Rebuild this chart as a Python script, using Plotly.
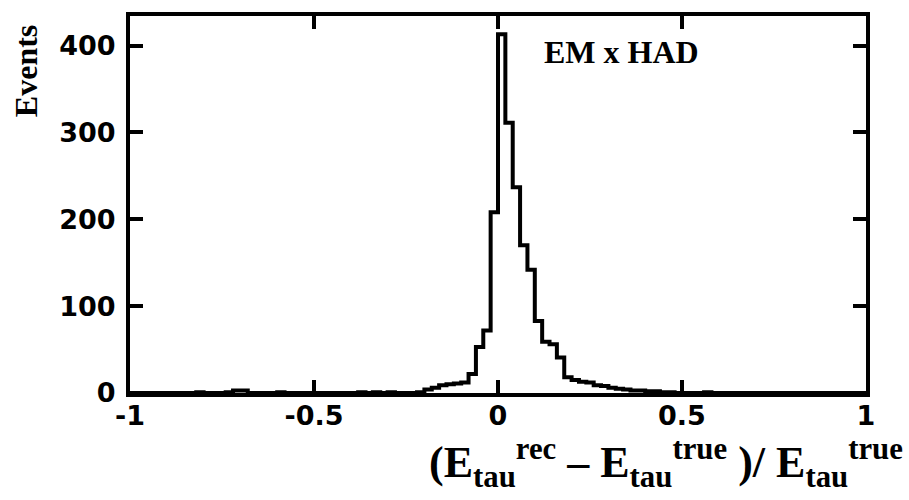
import plotly.graph_objects as go

# Histogram of the relative tau energy resolution, 100 bins of width 0.02 on [-1, 1]
bin_start = -1.0
bin_width = 0.02
counts = [
    0, 0, 0, 0, 0, 0, 0, 0, 0, 1,        # -1.00 .. -0.82
    0, 0, 0, 1, 3, 3, 0, 0, 0, 0,        # -0.80 .. -0.62
    1, 0, 0, 0, 0, 0, 0, 0, 0, 0,        # -0.60 .. -0.42
    0, 1, 0, 1, 0, 1, 0, 0, 0, 1,        # -0.40 .. -0.22
    4, 6, 9, 10, 11, 12, 22, 53, 72, 208,  # -0.20 .. -0.02
    413, 311, 237, 170, 142, 83, 59, 56, 41, 18,  # 0.00 .. 0.18
    15, 13, 12, 9, 8, 6, 5, 4, 3, 3,     # 0.20 .. 0.38
    2, 2, 1, 1, 0, 0, 0, 0, 1, 0,        # 0.40 .. 0.58
    0, 0, 0, 0, 0, 0, 0, 0, 0, 0,        # 0.60 .. 0.78
    0, 0, 0, 0, 0, 0, 0, 0, 0, 0,        # 0.80 .. 0.98
]
x_ticks = [-1, -0.5, 0, 0.5, 1]
x_ticktext = ["-1", "-0.5", "0", "0.5", "1"]
y_ticks = [0, 100, 200, 300, 400]
y_ticktext = ["0", "100", "200", "300", "400"]

edges = [round(bin_start + bin_width * i, 4) for i in range(len(counts) + 1)]
step_y = counts + [counts[-1]]

fig = go.Figure()
fig.add_trace(go.Scatter(
    x=edges, y=step_y, mode="lines",
    line=dict(shape="hv", color="black", width=4),
    showlegend=False, hoverinfo="skip",
))

tick_font = dict(family="DejaVu Sans", size=27, color="black", weight="bold")
serif = "Liberation Serif"

axis_common = dict(
    showline=True, linewidth=4, linecolor="black", mirror="allticks",
    ticks="inside", ticklen=13, tickwidth=4, tickcolor="black",
    showgrid=False, zeroline=False, tickfont=tick_font,
)

fig.update_layout(
    width=909, height=500,
    margin=dict(l=130, r=43, t=12, b=107),
    paper_bgcolor="white", plot_bgcolor="white",
    xaxis=dict(range=[-1, 1], tickvals=x_ticks, ticktext=x_ticktext,
               ticklabelstandoff=-4, **axis_common),
    yaxis=dict(range=[0, 434], tickvals=y_ticks, ticktext=y_ticktext,
               ticklabelstandoff=5, **axis_common),
    annotations=[
        dict(text="<b>EM x HAD</b>", xref="paper", yref="paper",
             x=0.668, y=0.905, xanchor="center", yanchor="middle",
             showarrow=False, font=dict(family=serif, size=32, color="black")),
        dict(text="<b>Events</b>", xref="paper", yref="paper",
             x=-0.142, y=0.855, xanchor="center", yanchor="middle", textangle=-90,
             showarrow=False, font=dict(family=serif, size=32, color="black")),
        dict(text="<b>(E<sub>tau</sub><sup>rec</sup> – E<sub>tau</sub><sup>true</sup> )/ "
                  "E<sub>tau</sub><sup>true</sup></b>",
             xref="paper", yref="paper", x=1.053, y=-0.185,
             xanchor="right", yanchor="middle",
             showarrow=False, font=dict(family=serif, size=44, color="black")),
    ],
)

fig.write_html("out.html")
